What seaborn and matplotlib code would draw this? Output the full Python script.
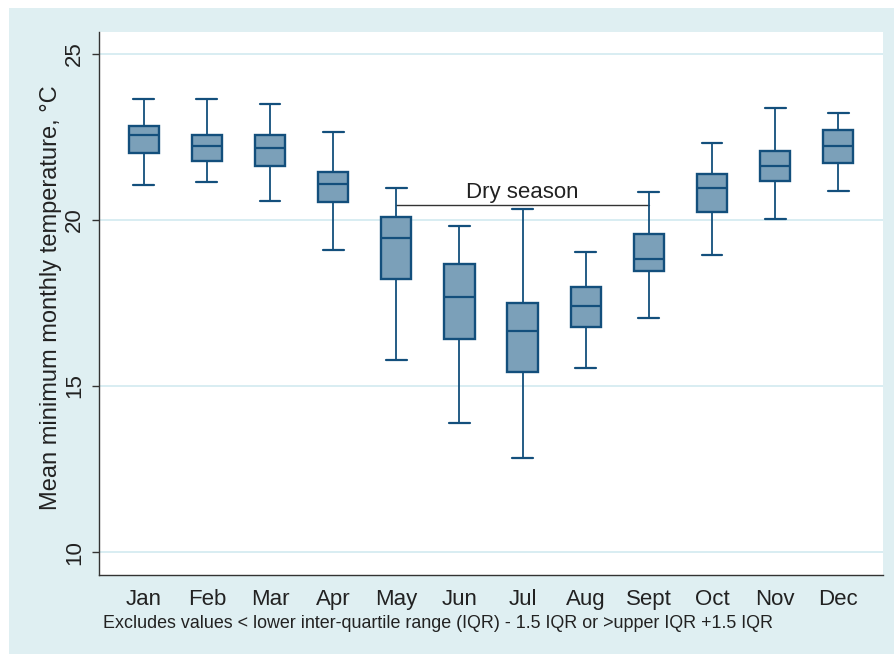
import numpy as np
import pandas as pd
import seaborn as sns
import matplotlib
matplotlib.use("Agg")
import matplotlib.pyplot as plt
from matplotlib.patches import Rectangle

months = ["Jan", "Feb", "Mar", "Apr", "May", "Jun", "Jul", "Aug", "Sept", "Oct", "Nov", "Dec"]
whisker_low = [21.05, 21.14, 20.57, 19.11, 15.78, 13.88, 12.82, 15.53, 17.06, 18.95, 20.04, 20.88]
q1 = [22.02, 21.77, 21.64, 20.54, 18.23, 16.42, 15.41, 16.79, 18.47, 20.25, 21.17, 21.72]
median = [22.55, 22.24, 22.16, 21.09, 19.46, 17.68, 16.65, 17.41, 18.83, 20.95, 21.62, 22.24]
q3 = [22.84, 22.56, 22.56, 21.45, 20.09, 18.68, 17.50, 17.98, 19.57, 21.39, 22.08, 22.71]
whisker_high = [23.65, 23.64, 23.48, 22.64, 20.95, 19.83, 20.34, 19.04, 20.84, 22.31, 23.37, 23.21]

dry_start, dry_end = "May", "Sept"
dry_level = 20.46
dry_label = "Dry season"
y_ticks = [10, 15, 20, 25]
y_label = "Mean minimum monthly temperature, °C"
footnote = "Excludes values < lower inter-quartile range (IQR) - 1.5 IQR or >upper IQR +1.5 IQR"

rows = []
for i, m in enumerate(months):
    for v in (whisker_low[i], q1[i], median[i], q3[i], whisker_high[i]):
        rows.append({"month": m, "temp": v})
df = pd.DataFrame(rows)

sns.set_style("white")
plt.rcParams["font.family"] = ["Liberation Sans", "DejaVu Sans"]

BG = "#dfeff2"
FILL = "#7ba0b9"
EDGE = "#134f7c"
TXT = "#222222"

fig = plt.figure(figsize=(8.95, 6.54), dpi=100, facecolor="white")
fig.patches.append(Rectangle((9 / 895, 0), 1, (654 - 8) / 654, transform=fig.transFigure,
                             facecolor=BG, edgecolor="none", zorder=-10))
ax = fig.add_axes([99 / 895, (654 - 575) / 654, (883 - 99) / 895, (575 - 32) / 654])
ax.set_facecolor("white")

sns.boxplot(data=df, x="month", y="temp", order=months, ax=ax, whis=(0, 100),
            width=0.48, color=FILL, linecolor=EDGE, linewidth=1.7, saturation=1,
            capwidths=0.33, whiskerprops={"linewidth": 1.3}, capprops={"linewidth": 1.6},
            medianprops={"linewidth": 1.6}, showfliers=False)
for p in ax.patches:
    p.set_facecolor(FILL)
    p.set_edgecolor(EDGE)

ax.set_ylim(9.31, 25.66)
ax.set_xlim(-0.708, 11.708)
ax.set_yticks(y_ticks)
for t in y_ticks:
    ax.axhline(t, color="#d6ecf1", lw=1.3, zorder=0)

xs = [months.index(dry_start), months.index(dry_end)]
ax.plot(xs, [dry_level, dry_level], color="#333333", lw=1.0, zorder=1)
ax.text(np.mean(xs), dry_level + 0.06, dry_label, ha="center", va="bottom",
        fontsize=16, color=TXT)

for s in ("top", "right"):
    ax.spines[s].set_visible(False)
for s in ("left", "bottom"):
    ax.spines[s].set_color("#333333")
    ax.spines[s].set_linewidth(1.0)

ax.tick_params(axis="y", direction="out", length=5, width=1, color="#333333",
               labelsize=16, labelcolor=TXT, pad=5, left=True)
for lab in ax.get_yticklabels():
    lab.set_rotation(90)
    lab.set_va("center")
ax.tick_params(axis="x", length=0, labelsize=16, labelcolor=TXT, pad=10)
ax.set_xlabel("")
ax.set_ylabel(y_label, fontsize=17, color=TXT, va="center")
ax.yaxis.set_label_coords(-0.061, 0.51)

fig.text(103 / 895, 1 - 624 / 654, footnote, ha="left", va="center", fontsize=12.9, color=TXT)

fig.savefig("out.png", dpi=100, facecolor=fig.get_facecolor())
